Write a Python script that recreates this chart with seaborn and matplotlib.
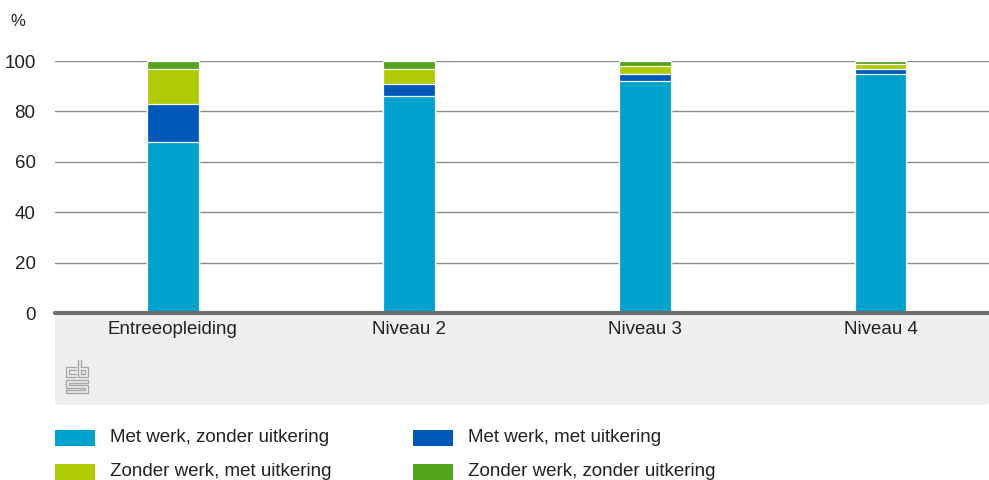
import matplotlib
matplotlib.use("Agg")
import matplotlib.pyplot as plt
import seaborn as sns
import pandas as pd
import numpy as np
from matplotlib.patches import Rectangle, FancyBboxPatch

categories = ["Entreeopleiding", "Niveau 2", "Niveau 3", "Niveau 4"]
series_names = ["Met werk, zonder uitkering", "Met werk, met uitkering",
                "Zonder werk, met uitkering", "Zonder werk, zonder uitkering"]
met_werk_zonder = [68, 86, 92, 95]
met_werk_met = [15, 5, 3, 2]
zonder_werk_met = [14, 6, 3, 2]
zonder_werk_zonder = [3, 3, 2, 1]
colors = ["#00A1CD", "#0058B8", "#AFCB05", "#53A31D"]
yticks = [0, 20, 40, 60, 80, 100]

sns.set_theme(style="white")
plt.rcParams['font.family'] = ['Liberation Sans', 'DejaVu Sans']

W, H = 989, 480
fig = plt.figure(figsize=(W / 100, H / 100), dpi=100)

# gray band under axis
band = FancyBboxPatch((55 / W, (480 - 405) / H), (989 - 55) / W, (405 - 313) / H,
                      boxstyle="round,pad=0,rounding_size=0.006",
                      transform=fig.transFigure, facecolor="#EFEFEF", edgecolor="none", zorder=-5)
fig.patches.append(band)

ax = fig.add_axes([55 / W, (480 - 313) / H, (989 - 55) / W, (313 - 61) / H])
ax.set_facecolor("none")
ax.set_zorder(2)

series = [met_werk_zonder, met_werk_met, zonder_werk_met, zonder_werk_zonder]
cum = np.cumsum(np.array(series), axis=0)
for i in range(3, -1, -1):
    df = pd.DataFrame({"cat": categories, "val": cum[i]})
    sns.barplot(data=df, x="cat", y="val", color=colors[i], width=0.22,
                edgecolor="white", linewidth=0.9, ax=ax, zorder=3, saturation=1)

ax.set_ylim(0, 100)
ax.set_xlim(-0.5, 3.46)
ax.set_yticks(yticks)
ax.set_yticklabels([str(v) for v in yticks])
ax.set_xlabel("")
ax.set_ylabel("")
for s in ["top", "right", "left", "bottom"]:
    ax.spines[s].set_visible(False)
ax.yaxis.grid(True, color="#8C8C8C", linewidth=1.0, zorder=1)
ax.set_axisbelow(True)
ax.axhline(0, color="#6E6E6E", linewidth=3, zorder=4, clip_on=False)
ax.tick_params(axis="y", length=0, pad=14, labelsize=13.5, labelcolor="#222222")
ax.tick_params(axis="x", length=0, pad=6, labelsize=13.5, labelcolor="#222222")

fig.text(10 / W, (480 - 22) / H, "%", fontsize=12, color="#222222", va="center", ha="left")

# simple cbs logo approximation (pixel coords, y down)
logo_paths = [
    [(76, 367), (66, 367), (66, 377), (76, 377)],
    [(76, 370), (69, 370), (69, 374), (76, 374)],
    [(78, 360), (78, 377), (88, 377), (88, 367), (81, 367), (81, 360)],
    [(81, 370), (85, 370), (85, 374), (81, 374), (81, 370)],
    [(88, 380), (66, 380), (66, 388), (85, 388), (85, 390), (66, 390), (66, 393), (88, 393), (88, 385), (69, 385), (69, 383), (88, 383), (88, 380)],
]
for path in logo_paths:
    xs = [p[0] / W for p in path]
    ys = [(480 - p[1]) / H for p in path]
    fig.add_artist(plt.Line2D(xs, ys, transform=fig.transFigure, color="#A8A8A8", linewidth=1.0))

# legend
leg_pos = [(55, 438), (413, 438), (55, 472), (413, 472)]
for (x, y), name, c in zip(leg_pos, series_names, colors):
    fig.patches.append(Rectangle((x / W, (480 - y - 8) / H), 40 / W, 16 / H,
                                 transform=fig.transFigure, facecolor=c, edgecolor="none"))
    fig.text((x + 55) / W, (480 - y) / H, name, fontsize=13.5, color="#222222",
             va="center", ha="left")

fig.savefig("out.png", dpi=100)
